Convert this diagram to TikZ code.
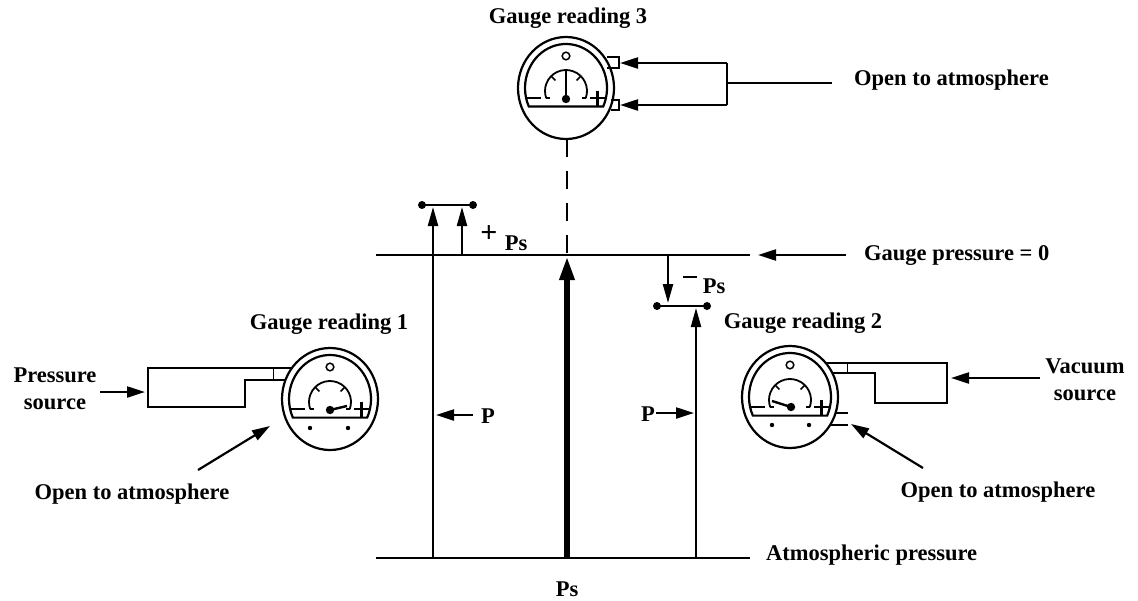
\documentclass[tikz,border=0pt]{standalone}
\usepackage{fontspec}
\setmainfont{Liberation Serif}
\usetikzlibrary{arrows.meta}
\tikzset{
  gl/.style={line width=2.2pt},
  arr/.style={gl,-{Triangle[length=19pt,width=10pt]}},
  sarr/.style={gl,-{Triangle[length=18pt,width=11pt]}},
  lbl/.style={font=\fontsize{22.5}{26}\selectfont\bfseries,inner sep=0pt},
  sgn/.style={font=\fontsize{30}{30}\selectfont\bfseries,inner sep=0pt},
  bardot/.style={circle,fill=black,inner sep=0pt,minimum size=8pt},
}
\newcommand\mygauge[5]{% #1 x, #2 y, #3 needle end, #4 extras, #5 pivot
\begin{scope}[shift={(#1,#2)}]
  \draw[gl] (0,0) ellipse [x radius=48, y radius=51];
  \draw[gl] (25:41 and 44) arc[start angle=25, end angle=-205, x radius=41, y radius=44] -- cycle;
  \draw[line width=1.8pt] (0,3) ++(20:21) arc[start angle=20, end angle=-200, radius=21];
  \draw[line width=1.8pt] (0,3) ++(20:21) -- ++(-4,0);
  \draw[line width=1.8pt] (0,3) ++(160:21) -- ++(4,0);
  \draw[line width=1.5pt] (0,3) ++(-135:21) -- ++(45:6);
  \draw[line width=1.5pt] (0,3) ++(-45:21) -- ++(135:6);
  \draw[line width=2.8pt] (-39,10) -- (-25,10);
  \draw[line width=2.8pt] (24,10) -- (39,10) (31.5,2.5) -- (31.5,17.5);
  \draw[line width=1.5pt] (0,-32) circle (3.8);
  \draw[line width=2.4pt] #5 -- #3;
  \fill #5 circle (4.2);
  #4
\end{scope}}
\begin{document}
\begin{tikzpicture}[x=1pt,y=-1pt]
\useasboundingbox (0,0) rectangle (1138,600);

% ---------- reference lines ----------
\coordinate (z0) at (376,255); \coordinate (z1) at (750,255);
\coordinate (a0) at (376,558); \coordinate (a1) at (750,558);
\draw[gl] (z0) -- (z1);
\draw[gl] (a0) -- (a1);
\node[lbl,anchor=west] (gp0) at (864,255) {Gauge pressure = 0};
\coordinate (gpt) at (758,255);
\draw[sarr] (846,255) coordinate (gpa) -- (gpt);
\node[lbl,anchor=west] (atm) at (766,555) {Atmospheric pressure};

% ---------- central Ps ----------
\coordinate (ps0) at (567,558); \coordinate (ps1) at (567,256);
\draw[line width=6pt,-{Triangle[length=24pt,width=14pt]}] (ps0) -- (ps1);
\node[lbl] (psl) at (567,589) {Ps};

% ---------- gauge 3 ----------
\mygauge{566}{88}{(0,-17)}{}{(0,11)}
\node[lbl] (g3) at (568,18) {Gauge reading 3};
\draw[gl,dash pattern=on 18pt off 14pt] (567,139) coordinate (g3b) -- (567,255);
\draw[line width=1.8pt] (607,57) -- (619,57) -- (619,68) -- (607,68);
\draw[line width=1.8pt] (611,100) -- (619,100) -- (619,110) -- (611,110);
\coordinate (n1) at (620,63); \coordinate (n2) at (620,105);
\coordinate (t1) at (727,63); \coordinate (t2) at (727,105);
\coordinate (t3) at (727,83); \coordinate (t4) at (832,83);
\draw[sarr] (t1) -- (n1);
\draw[sarr] (t2) -- (n2);
\draw[gl] (t1) -- (t2);
\draw[gl] (t3) -- (t4);
\node[lbl,anchor=west] (o3) at (854,80) {Open to atmosphere};

% ---------- left: +Ps ----------
\coordinate (b1a) at (422,205); \coordinate (b1b) at (473,205);
\draw[gl] (b1a) -- (b1b);
\node[bardot] at (b1a) {}; \node[bardot] at (b1b) {};
\draw[arr] (433,558) coordinate (l1) -- (433,207);
\draw[arr] (462,255) coordinate (l2) -- (462,207);
\node[sgn] (plus) at (489,234) {+};
\node[lbl] (psa) at (516,243) {Ps};
\draw[sarr] (473,415) coordinate (pa) -- (436,415);
\node[lbl] (pl) at (488,416) {P};

% ---------- right: -Ps ----------
\coordinate (b2a) at (657,306); \coordinate (b2b) at (707,306);
\draw[gl] (b2a) -- (b2b);
\node[bardot] at (b2a) {}; \node[bardot] at (b2b) {};
\draw[arr] (668,255) coordinate (r1) -- (668,303);
\draw[arr] (696,558) coordinate (r2) -- (696,308);
\draw[line width=2.8pt] (683,277) coordinate (m0) -- (697,277) coordinate (m1);
\node[lbl] (psb) at (714,286) {Ps};
\node[lbl] (pr) at (648,414) {P};
\draw[sarr] (656,413) coordinate (prs) -- (694,413);

% ---------- gauge 1 ----------
\mygauge{330}{399}{(17,7)}{\fill (-20,29) circle (2.2); \fill (18,29) circle (2.2);}{(0,11)}
\node[lbl] (g1) at (329,324) {Gauge reading 1};
\draw[gl] (292,368) -- (148,368) -- (148,407) -- (245,407) -- (245,380) -- (285,380);
\draw[line width=1pt] (273,368) -- (273,380);
\node[lbl,align=center] (psrc) at (55,389) {Pressure\\[1pt]source};
\draw[sarr] (100,392) coordinate (psa1) -- (145,392);
\node[lbl] (o1) at (132,494) {Open to atmosphere};
\draw[sarr] (198,470) coordinate (o1a) -- (270,426);

% ---------- gauge 2 ----------
\mygauge{790}{397}{(-18,4)}{\fill (-18,28) circle (2.2); \fill (19,28) circle (2.2);}{(1,10)}
\node[lbl] (g2) at (803,323) {Gauge reading 2};
\draw[gl] (826,363) -- (947,363) -- (947,403) -- (875,403) -- (875,373) -- (832,373);
\draw[line width=1pt] (847,363) -- (847,373);
\draw[gl] (835,413) -- (848,413);
\draw[gl] (830,425) -- (848,425);
\node[lbl,align=center] (vsrc) at (1085,380) {Vacuum\\[1pt]source};
\draw[sarr] (1040,378) coordinate (vsa) -- (951,378);
\node[lbl] (o2) at (998,492) {Open to atmosphere};
\draw[sarr] (923,468) coordinate (o2a) -- (851,424);
\end{tikzpicture}
\end{document}
